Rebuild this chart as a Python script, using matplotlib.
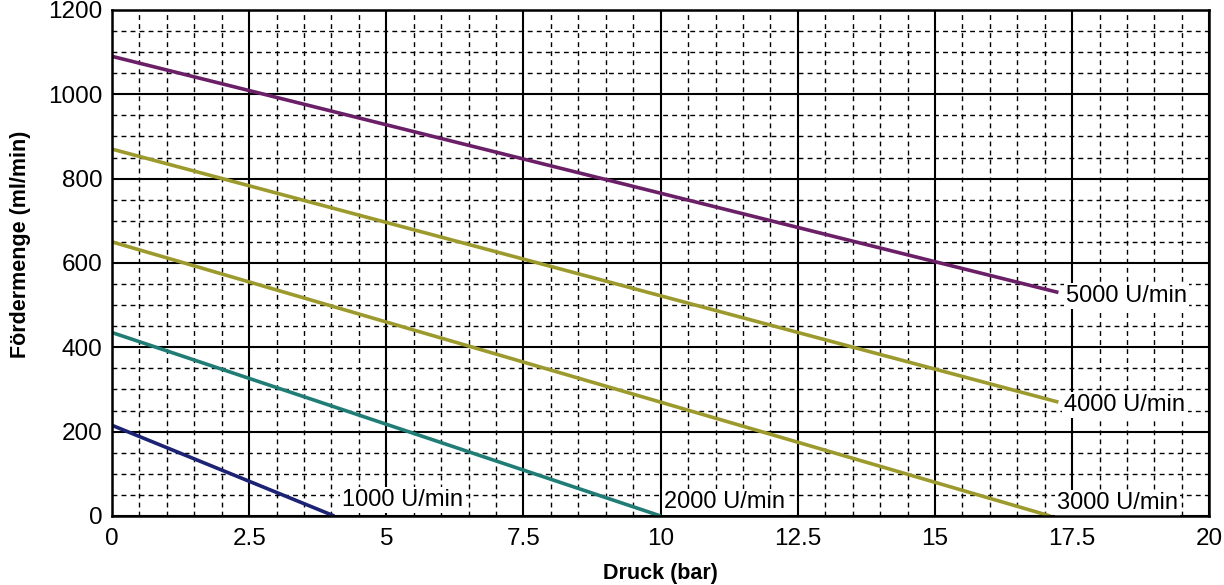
import numpy as np
import matplotlib.pyplot as plt
from matplotlib.ticker import MultipleLocator

plt.rcParams['font.family'] = ['Liberation Sans', 'DejaVu Sans']

# Kennlinien: Druck (bar) -> Fördermenge (ml/min), Anfangs- und Endpunkt
drehzahl = ['1000 U/min', '2000 U/min', '3000 U/min', '4000 U/min', '5000 U/min']
druck_start = [0, 0, 0, 0, 0]
druck_ende = [4.05, 10.0, 17.1, 17.25, 17.25]
menge_start = [215, 435, 650, 870, 1090]
menge_ende = [0, 0, 0, 270, 530]
farben = ['#1c2274', '#1f7d76', '#9c9a2c', '#9c9a2c', '#6a1f66']

# Beschriftungen (x, y in Datenkoordinaten)
label_x = [4.2, 10.06, 17.23, 17.36, 17.39]
label_y = [38, 33, 31, 263, 522]

fig = plt.figure(figsize=(12.24, 5.85), dpi=100)
ax = fig.add_axes([0.0915, 0.118, 0.8965, 0.865])

for i in range(len(drehzahl)):
    ax.plot([druck_start[i], druck_ende[i]], [menge_start[i], menge_ende[i]],
            color=farben[i], lw=2.6, solid_capstyle='butt', zorder=4)
    ax.text(label_x[i], label_y[i], drehzahl[i], fontsize=17, va='center', ha='left',
            zorder=5, bbox=dict(facecolor='white', edgecolor='none', pad=1.5))

ax.set_xlim(0, 20)
ax.set_ylim(0, 1200)
ax.xaxis.set_major_locator(MultipleLocator(2.5))
ax.xaxis.set_minor_locator(MultipleLocator(0.5))
ax.yaxis.set_major_locator(MultipleLocator(200))
ax.yaxis.set_minor_locator(MultipleLocator(50))
ax.xaxis.set_major_formatter(plt.FuncFormatter(lambda v, p: '%g' % v))

ax.grid(which='major', color='black', lw=1.5, zorder=1)
ax.grid(which='minor', color='black', lw=1.0, ls=(0, (3.5, 3)), zorder=1)
ax.tick_params(which='both', length=0, labelsize=17.5)
ax.tick_params(axis='y', pad=7)
ax.tick_params(axis='x', pad=9)
for s in ax.spines.values():
    s.set_linewidth(1.8)
    s.set_zorder(6)

ax.set_xlabel('Druck (bar)', fontsize=15.5, fontweight='bold', labelpad=9)
ax.set_ylabel('Fördermenge (ml/min)', fontsize=15.5, fontweight='bold', va='center')
ax.yaxis.set_label_coords(-0.083, 0.537)

fig.savefig('out.png', dpi=100)
